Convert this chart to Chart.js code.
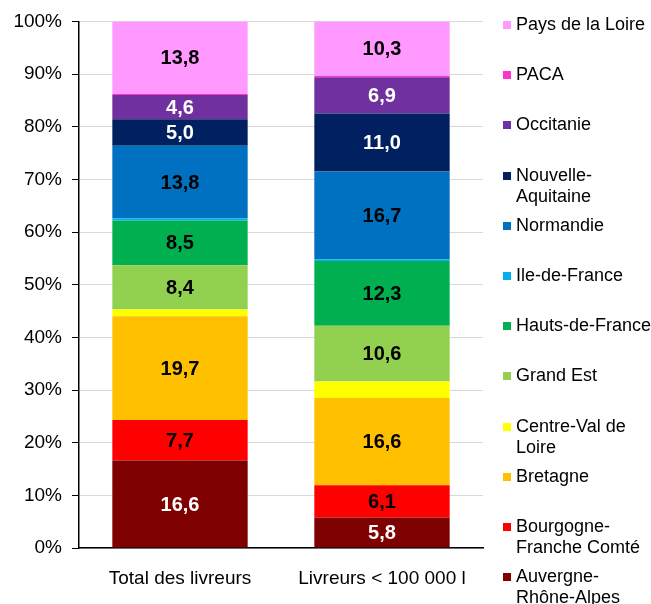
<!DOCTYPE html>
<html>
<head>
<meta charset="utf-8">
<script src="https://cdn.jsdelivr.net/npm/chart.js@4.4.0/dist/chart.umd.min.js"></script>
<style>
  body { margin: 0; background: #fff; }
  #wrap { position: relative; width: 651px; height: 604px; }
  #legend { position: absolute; left: 0; top: 0; }
  .item { position: absolute; left: 503px; font: 18px "Liberation Sans", Arial, sans-serif; line-height: 21px; color: #000; white-space: pre; }
  .item span.box { position: absolute; left: 0; top: 7px; width: 8px; height: 8px; }
  .item span.txt { position: absolute; left: 13px; top: 0; }
</style>
</head>
<body>
<div id="wrap">
  <canvas id="chart" width="651" height="604"></canvas>
  <div id="legend"></div>
</div>
<script>
const categories = ['Total des livreurs', 'Livreurs < 100 000 l'];

const regions = [
  'Auvergne-\nRhône-Alpes', 'Bourgogne-\nFranche Comté', 'Bretagne', 'Centre-Val de\nLoire',
  'Grand Est', 'Hauts-de-France', 'Ile-de-France', 'Normandie',
  'Nouvelle-\nAquitaine', 'Occitanie', 'PACA', 'Pays de la Loire',
];

// share (%) per region, same order as regions
const totalLivreurs = [16.6, 7.7, 19.7, 1.3, 8.4, 8.5, 0.4, 13.8, 5.0, 4.6, 0.2, 13.8];
const petitsLivreurs = [5.8, 6.1, 16.6, 3.1, 10.6, 12.3, 0.3, 16.7, 11.0, 6.9, 0.3, 10.3];

const colors = [
  '#7f0000', '#ff0000', '#ffc000', '#ffff00', '#92d050', '#00b050',
  '#00b0f0', '#0070c0', '#002060', '#7030a0', '#ff33cc', '#ff99ff',
];
const labelColors = [
  '#fff', '#000', '#000', '#000', '#000', '#000',
  '#000', '#000', '#fff', '#fff', '#000', '#000',
];

const FONT = '"Liberation Sans", Arial, sans-serif';

const segmentLabels = {
  id: 'segmentLabels',
  afterDatasetsDraw(chart) {
    const ctx = chart.ctx;
    ctx.save();
    ctx.font = 'bold 20px ' + FONT;
    ctx.textAlign = 'center';
    ctx.textBaseline = 'middle';
    chart.data.datasets.forEach((ds, i) => {
      chart.getDatasetMeta(i).data.forEach((bar, j) => {
        const v = ds.data[j];
        if (v < 4) return;
        ctx.fillStyle = labelColors[i];
        ctx.fillText(v.toFixed(1).replace('.', ','), bar.x, (bar.y + bar.base) / 2 + 1);
      });
    });
    ctx.restore();
  },
};

new Chart(document.getElementById('chart').getContext('2d'), {
  type: 'bar',
  data: {
    labels: categories,
    datasets: regions.map((name, i) => ({
      label: name.replace('\n', ''),
      data: [totalLivreurs[i], petitsLivreurs[i]],
      backgroundColor: colors[i],
      borderWidth: 0,
      barPercentage: 0.67,
      categoryPercentage: 1,
    })),
  },
  options: {
    responsive: false,
    animation: false,
    layout: { padding: { top: 21, right: 168, left: 0, bottom: 0 } },
    plugins: {
      legend: { display: false },
      tooltip: { enabled: false },
    },
    scales: {
      x: {
        stacked: true,
        grid: { display: false },
        border: { color: '#000', width: 1.5 },
        ticks: { color: '#000', font: { family: FONT, size: 19 }, padding: 11 },
        afterFit(scale) { scale.height = 56; },
      },
      y: {
        stacked: true,
        min: 0,
        max: 100,
        ticks: {
          stepSize: 10,
          color: '#000',
          padding: 10,
          font: { family: FONT, size: 19 },
          callback: (v) => v + '%',
        },
        grid: { color: '#d9d9d9', tickColor: '#000', tickLength: 7 },
        border: { color: '#000', width: 1.5 },
        afterFit(scale) { scale.width = 79; },
      },
    },
  },
  plugins: [segmentLabels],
});

// legend, top item = last region
const legend = document.getElementById('legend');
regions.slice().reverse().forEach((name, k) => {
  const i = regions.length - 1 - k;
  const div = document.createElement('div');
  div.className = 'item';
  div.style.top = (14 + 50.2 * k) + 'px';
  div.innerHTML = '<span class="box" style="background:' + colors[i] + '"></span><span class="txt"></span>';
  div.querySelector('.txt').textContent = name;
  legend.appendChild(div);
});
</script>
</body>
</html>
